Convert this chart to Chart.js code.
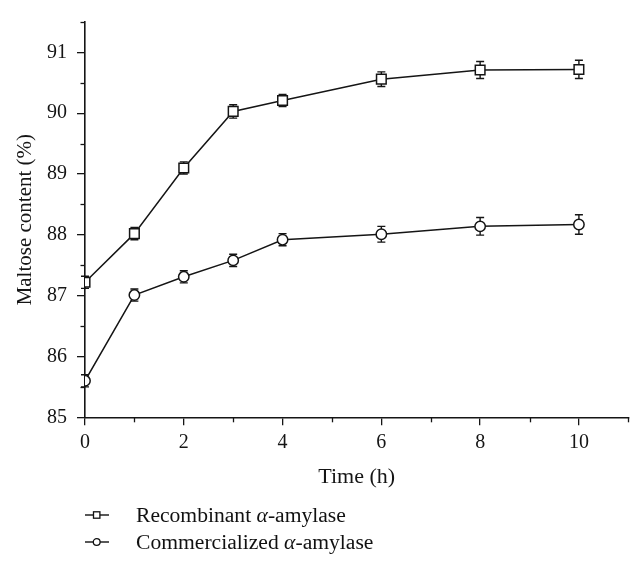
<!DOCTYPE html>
<html>
<head>
<meta charset="utf-8">
<script src="https://cdn.jsdelivr.net/npm/chart.js@4.4.1/dist/chart.umd.min.js"></script>
<style>
  html, body { margin: 0; padding: 0; background: #fff; }
  #wrap { position: relative; width: 643px; height: 570px; }
  canvas { position: absolute; left: 0; top: 0; }
  .leg { position: absolute; left: 84px; font-family: "Liberation Serif", serif; font-size: 21.6px; line-height: 27px; color: #111; white-space: nowrap; }
  .leg svg { vertical-align: middle; margin-right: 26px; position: relative; top: -2px; }
</style>
</head>
<body>
<div id="wrap">
  <canvas id="c" width="643" height="570"></canvas>
  <div class="leg" style="top:502px">
    <svg width="26" height="12" viewBox="0 0 26 12"><line x1="1" y1="6" x2="25" y2="6" stroke="#111" stroke-width="1.4"/><rect x="9.5" y="2.8" width="6.4" height="6.4" fill="#fff" stroke="#111" stroke-width="1.3"/></svg>Recombinant <i>α</i>-amylase
  </div>
  <div class="leg" style="top:529px">
    <svg width="26" height="12" viewBox="0 0 26 12"><line x1="1" y1="6" x2="25" y2="6" stroke="#111" stroke-width="1.4"/><circle cx="12.7" cy="6" r="3.4" fill="#fff" stroke="#111" stroke-width="1.3"/></svg>Commercialized <i>α</i>-amylase
  </div>
</div>
<script>
const timeHours = [0, 1, 2, 3, 4, 6, 8, 10];
const recombinant = [87.22, 88.02, 89.10, 90.03, 90.21, 90.56, 90.71, 90.72];
const recombinantErr = [0.10, 0.10, 0.10, 0.11, 0.10, 0.12, 0.14, 0.15];
const commercialized = [85.60, 87.01, 87.31, 87.58, 87.92, 88.01, 88.14, 88.17];
const commercializedErr = [0.10, 0.10, 0.10, 0.10, 0.10, 0.13, 0.145, 0.16];
const xTickLabels = ['0', '2', '4', '6', '8', '10'];
const yTickLabels = ['85', '86', '87', '88', '89', '90', '91'];
const seriesNames = ['Recombinant α-amylase', 'Commercialized α-amylase'];

const fmt = v => String(Math.round(v * 1000) / 1000);
const INK = '#151515';
const FONT = 'Liberation Serif';

const errorBars = {
  id: 'errorBars',
  beforeDatasetsDraw(chart) {
    const { ctx } = chart;
    const y = chart.scales.y;
    ctx.save();
    ctx.strokeStyle = INK;
    ctx.lineWidth = 1.4;
    chart.data.datasets.forEach((ds, i) => {
      const meta = chart.getDatasetMeta(i);
      meta.data.forEach((pt, j) => {
        const v = ds.data[j].y, e = ds.errors[j];
        const t = y.getPixelForValue(v + e), b = y.getPixelForValue(v - e);
        ctx.beginPath();
        ctx.moveTo(pt.x, t); ctx.lineTo(pt.x, b);
        ctx.moveTo(pt.x - 4, t); ctx.lineTo(pt.x + 4, t);
        ctx.moveTo(pt.x - 4, b); ctx.lineTo(pt.x + 4, b);
        ctx.stroke();
      });
    });
    ctx.restore();
  }
};

const minorTicks = {
  id: 'minorTicks',
  afterDraw(chart) {
    const { ctx } = chart;
    const { x, y } = chart.scales;
    ctx.save();
    ctx.strokeStyle = INK;
    ctx.lineWidth = 1.3;
    y.ticks.forEach(t => {
      if (!yTickLabels.includes(fmt(t.value))) {
        const py = Math.round(y.getPixelForValue(t.value)) + 0.5;
        ctx.beginPath(); ctx.moveTo(x.left, py); ctx.lineTo(x.left - 4.5, py); ctx.stroke();
      }
    });
    x.ticks.forEach(t => {
      if (!xTickLabels.includes(fmt(t.value))) {
        const px = Math.round(x.getPixelForValue(t.value)) + 0.5;
        ctx.beginPath(); ctx.moveTo(px, y.bottom); ctx.lineTo(px, y.bottom + 5); ctx.stroke();
      }
    });
    ctx.restore();
  }
};

const mk = (vals, errs, name, style, r) => ({
  label: name,
  data: timeHours.map((t, i) => ({ x: t, y: vals[i] })),
  errors: errs,
  showLine: true,
  borderColor: INK,
  borderWidth: 1.5,
  backgroundColor: '#fff',
  pointStyle: style,
  pointRadius: r,
  pointHoverRadius: r,
  pointBorderWidth: 1.5,
  pointBorderColor: INK,
  pointBackgroundColor: '#fff',
  tension: 0
});

new Chart(document.getElementById('c'), {
  type: 'scatter',
  data: {
    datasets: [
      mk(recombinant, recombinantErr, seriesNames[0], 'rect', 6.8),
      mk(commercialized, commercializedErr, seriesNames[1], 'circle', 5.2)
    ]
  },
  options: {
    responsive: false,
    animation: false,
    events: [],
    layout: { padding: { left: 8, right: 14.7, top: 14, bottom: 76.7 } },
    plugins: { legend: { display: false }, tooltip: { enabled: false } },
    scales: {
      x: {
        type: 'linear', min: 0, max: 11,
        afterFit: s => { s.height = 76; },
        border: { display: true, color: INK, width: 1.6 },
        grid: {
          display: true, drawOnChartArea: false, drawTicks: true, tickLength: 8, lineWidth: 1.3,
          color: c => (c.tick && xTickLabels.includes(fmt(c.tick.value))) ? INK : 'rgba(0,0,0,0)'
        },
        ticks: {
          stepSize: 1, autoSkip: false, maxRotation: 0, padding: 5, color: INK,
          font: { family: FONT, size: 20 },
          callback: v => xTickLabels.includes(fmt(v)) ? fmt(v) : ''
        },
        title: { display: true, text: 'Time (h)', color: INK, font: { family: FONT, size: 22 }, padding: { top: 0, bottom: 3.2 } }
      },
      y: {
        type: 'linear', min: 85, max: 91.5,
        afterFit: s => { s.width = 77; },
        border: { display: true, color: INK, width: 1.6 },
        grid: {
          display: true, drawOnChartArea: false, drawTicks: true, tickLength: 8, lineWidth: 1.3,
          color: c => (c.tick && yTickLabels.includes(fmt(c.tick.value))) ? INK : 'rgba(0,0,0,0)'
        },
        ticks: {
          stepSize: 0.5, autoSkip: false, padding: 10, color: INK,
          font: { family: FONT, size: 20 },
          callback: v => yTickLabels.includes(fmt(v)) ? fmt(v) : ''
        },
        title: { display: true, text: 'Maltose content (%)', color: INK, font: { family: FONT, size: 21 }, padding: { top: 4.4, bottom: 0 } }
      }
    }
  },
  plugins: [errorBars, minorTicks]
});
</script>
</body>
</html>
